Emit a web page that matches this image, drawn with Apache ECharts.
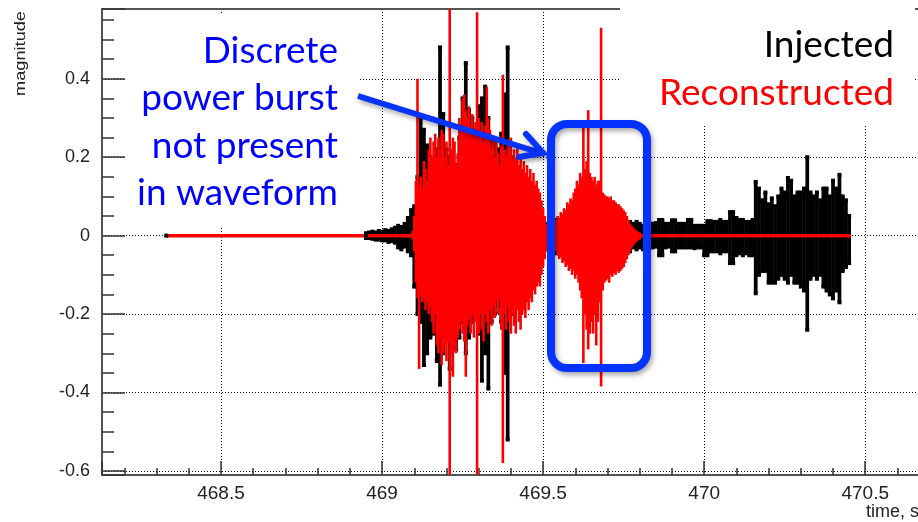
<!DOCTYPE html>
<html>
<head>
<meta charset="utf-8">
<script src="https://cdn.jsdelivr.net/npm/echarts@6/dist/echarts.min.js"></script>
<style>
  html, body { margin: 0; padding: 0; background: #fff; }
  #chart { width: 918px; height: 522px; }
</style>
</head>
<body>
<div id="chart"></div>
<script>
// Axis extents (time in s, magnitude)
const timeMin = 468.1306, timeMax = 470.67;
const magMin = -0.6105, magMax = 0.578;
const timeLabelStep = 0.5, magLabelStep = 0.2;

// Reconstructed waveform: flat between these times outside the bursts
const recoSpan = [468.33, 470.455];
// Reconstructed bursts: per-bin max / min, one bin every 5 ms from recoBinStart
const recoBinStart = 469.095, recoBinStep = 0.005;
const recoHi = [
  0.012, 0.05, 0.14, 0.40, 0.13, 0.15, 0.12, 0.19, 0.17, 0.14,
  0.22, 0.25, 0.20, 0.24, 0.26, 0.20, 0.25, 0.22, 0.27, 0.26,
  0.20, 0.24, 0.18, 0.58, 0.22, 0.25, 0.24, 0.18, 0.21, 0.30,
  0.28, 0.35, 0.36, 0.32, 0.30, 0.33, 0.28, 0.31, 0.25, 0.29,
  0.57, 0.30, 0.27, 0.29, 0.24, 0.28, 0.38, 0.30, 0.27, 0.22,
  0.25, 0.20, 0.24, 0.21, 0.18, 0.23, 0.41, 0.22, 0.20, 0.24,
  0.21, 0.25, 0.19, 0.22, 0.20, 0.23, 0.18, 0.20, 0.17, 0.19,
  0.16, 0.18, 0.15, 0.17, 0.14, 0.16, 0.13, 0.14, 0.12, 0.11,
  0.09, 0.07, 0.05, 0.03, 0.02, 0.02, 0.015, 0.02, 0.03, 0.04,
  0.05, 0.045, 0.06, 0.055, 0.07, 0.065, 0.085, 0.08, 0.095, 0.09,
  0.11, 0.12, 0.14, 0.13, 0.16, 0.15, 0.295, 0.17, 0.19, 0.32,
  0.16, 0.15, 0.14, 0.15, 0.13, 0.14, 0.14, 0.53, 0.11, 0.105,
  0.10, 0.10, 0.095, 0.10, 0.09, 0.09, 0.085, 0.08, 0.08, 0.075,
  0.07, 0.065, 0.06, 0.05, 0.04, 0.03, 0.025, 0.02, 0.015, 0.012,
  0.01, 0.008
];
const recoLo = [
  -0.01, -0.04, -0.12, -0.16, -0.34, -0.15, -0.17, -0.16, -0.19, -0.17,
  -0.20, -0.18, -0.22, -0.25, -0.20, -0.28, -0.30, -0.26, -0.33, -0.30,
  -0.28, -0.32, -0.27, -0.61, -0.30, -0.36, -0.28, -0.30, -0.26, -0.24,
  -0.22, -0.25, -0.27, -0.36, -0.23, -0.21, -0.25, -0.20, -0.26, -0.22,
  -0.61, -0.25, -0.20, -0.24, -0.27, -0.20, -0.22, -0.25, -0.19, -0.23,
  -0.18, -0.21, -0.17, -0.20, -0.16, -0.24, -0.58, -0.20, -0.24, -0.18,
  -0.22, -0.25, -0.20, -0.23, -0.25, -0.19, -0.22, -0.24, -0.20, -0.19,
  -0.21, -0.17, -0.19, -0.16, -0.17, -0.14, -0.15, -0.13, -0.12, -0.13,
  -0.10, -0.08, -0.06, -0.04, -0.03, -0.02, -0.02, -0.015, -0.03, -0.04,
  -0.05, -0.06, -0.055, -0.07, -0.065, -0.08, -0.075, -0.09, -0.085, -0.10,
  -0.09, -0.11, -0.10, -0.12, -0.14, -0.16, -0.325, -0.20, -0.24, -0.29,
  -0.25, -0.22, -0.25, -0.20, -0.28, -0.22, -0.17, -0.385, -0.14, -0.12,
  -0.115, -0.11, -0.12, -0.10, -0.105, -0.095, -0.10, -0.09, -0.095, -0.09,
  -0.085, -0.08, -0.07, -0.06, -0.05, -0.04, -0.03, -0.025, -0.02, -0.015,
  -0.012, -0.01
];

// Injected waveform: quiet lead-in, then per-bin max / min every 10 ms from injBinStart
const injLead = [468.33, 468.95];
const injBinStart = 468.95, injBinStep = 0.01;
const injHi = [
  0.006, 0.008, 0.01, 0.008, 0.012, 0.01, 0.014, 0.012, 0.016, 0.02,
  0.025, 0.022, 0.03, 0.045, 0.065, 0.075, 0.15, 0.30, 0.27, 0.23,
  0.20, 0.18, 0.22, 0.48, 0.31, 0.22, 0.20, 0.20, 0.18, 0.25,
  0.35, 0.44, 0.32, 0.30, 0.26, 0.33, 0.35, 0.38, 0.30, 0.25,
  0.24, 0.22, 0.26, 0.36, 0.48, 0.20, 0.18, 0.15, 0.13, 0.11,
  0.10, 0.08, 0.07, 0.05, 0.04, 0.035, 0.03, 0.03, 0.025, 0.04,
  0.035, 0.03, 0.04, 0.035, 0.03, 0.04, 0.035, 0.03, 0.04, 0.035,
  0.03, 0.04, 0.035, 0.03, 0.035, 0.04, 0.03, 0.035, 0.03, 0.04,
  0.035, 0.03, 0.035, 0.03, 0.035, 0.03, 0.025, 0.03, 0.032, 0.03,
  0.032, 0.04, 0.04, 0.03, 0.03, 0.039, 0.039, 0.03, 0.03, 0.03,
  0.04, 0.04, 0.025, 0.025, 0.025, 0.025, 0.037, 0.037, 0.035, 0.035,
  0.04, 0.035, 0.035, 0.06, 0.06, 0.045, 0.04, 0.04, 0.035, 0.035,
  0.04, 0.137, 0.12, 0.09, 0.11, 0.08, 0.095, 0.075, 0.10, 0.12,
  0.11, 0.147, 0.14, 0.10, 0.11, 0.11, 0.12, 0.20, 0.11, 0.10,
  0.11, 0.09, 0.12, 0.12, 0.10, 0.14, 0.12, 0.155, 0.10, 0.09,
  0.05
];
const injLo = [
  -0.006, -0.006, -0.008, -0.01, -0.01, -0.012, -0.012, -0.016, -0.014, -0.018,
  -0.03, -0.035, -0.028, -0.04, -0.05, -0.13, -0.20, -0.22, -0.33, -0.30,
  -0.26, -0.25, -0.32, -0.38, -0.30, -0.26, -0.34, -0.27, -0.29, -0.26,
  -0.22, -0.30, -0.26, -0.22, -0.20, -0.25, -0.37, -0.30, -0.39, -0.22,
  -0.20, -0.18, -0.22, -0.35, -0.52, -0.20, -0.17, -0.15, -0.13, -0.12,
  -0.10, -0.08, -0.07, -0.06, -0.05, -0.04, -0.035, -0.04, -0.03, -0.045,
  -0.04, -0.045, -0.035, -0.04, -0.035, -0.04, -0.045, -0.035, -0.04, -0.035,
  -0.04, -0.045, -0.035, -0.04, -0.03, -0.035, -0.04, -0.045, -0.035, -0.04,
  -0.035, -0.03, -0.04, -0.03, -0.035, -0.03, -0.035, -0.03, -0.028, -0.03,
  -0.028, -0.05, -0.05, -0.03, -0.028, -0.04, -0.04, -0.03, -0.03, -0.03,
  -0.03, -0.03, -0.032, -0.03, -0.03, -0.05, -0.05, -0.04, -0.04, -0.04,
  -0.045, -0.04, -0.04, -0.07, -0.07, -0.05, -0.045, -0.05, -0.045, -0.05,
  -0.05, -0.147, -0.10, -0.09, -0.09, -0.12, -0.12, -0.12, -0.11, -0.10,
  -0.11, -0.12, -0.10, -0.12, -0.12, -0.13, -0.14, -0.24, -0.11, -0.10,
  -0.11, -0.10, -0.13, -0.14, -0.15, -0.16, -0.14, -0.17, -0.09, -0.08,
  -0.07
];

// Envelope trace: each time bin is a filled column from its min to its max,
// optionally with square markers at both extremes.
function envelopeSeries(name, start, step, hi, lo, color, pad, markerSize) {
  const data = hi.map((h, i) => [start + i * step, h, lo[i]]);
  return {
    name: name, type: 'custom', data: data, silent: true, clip: true,
    encode: { x: 0, y: [1, 2] },
    renderItem: function (params, api) {
      const t = api.value(0);
      const top = api.coord([t, api.value(1)]);
      const bot = api.coord([t, api.value(2)]);
      const w = api.size([step, 0])[0] + pad;
      const children = [{
        type: 'rect',
        shape: { x: top[0] - w / 2, y: top[1], width: w, height: Math.max(bot[1] - top[1], 1) },
        style: { fill: color }
      }];
      if (markerSize) {
        const m = markerSize;
        children.push(
          { type: 'rect', shape: { x: top[0] - m / 2, y: top[1] - m / 2, width: m, height: m }, style: { fill: color } },
          { type: 'rect', shape: { x: bot[0] - m / 2, y: bot[1] - m / 2, width: m, height: m }, style: { fill: color } }
        );
      }
      return { type: 'group', children: children };
    }
  };
}

function stepLabel(step) {
  return function (v) {
    const k = v / step;
    if (Math.abs(k - Math.round(k)) > 1e-6) return '';
    return String(Math.round(v * 10) / 10);
  };
}

const axisColor = '#555';
const tickStyle = { color: '#333', width: 1.5 };
const gridDots = { color: '#000', width: 1, type: [1, 2] };
const tickFont = 'Liberation Sans';
const noteFont = '37px Lato';
const shapeBlue = '#0433ff';
const shade = { shadowBlur: 5, shadowOffsetX: 2, shadowOffsetY: 3, shadowColor: 'rgba(0,0,0,0.35)' };

const chart = echarts.init(document.getElementById('chart'));
chart.setOption({
  animation: false,
  backgroundColor: '#fff',
  grid: { left: 102, top: 9, width: 818, height: 466, containLabel: false, outerBoundsMode: 'none' },
  xAxis: [{
    type: 'value', min: timeMin, max: timeMax, splitNumber: 5,
    axisLine: { show: true, onZero: false, lineStyle: { color: axisColor, width: 2 } },
    axisTick: { show: true, inside: true, length: 14, lineStyle: tickStyle },
    minorTick: { show: true, splitNumber: 5, length: 7, lineStyle: tickStyle },
    axisLabel: { margin: 9, color: '#222', fontSize: 19, fontFamily: tickFont, formatter: stepLabel(timeLabelStep) },
    splitLine: { show: true, lineStyle: gridDots }
  }, {
    type: 'value', position: 'top', min: timeMin, max: timeMax,
    axisLine: { show: true, onZero: false, lineStyle: { color: axisColor, width: 2 } },
    axisTick: { show: false }, axisLabel: { show: false }, splitLine: { show: false }
  }],
  yAxis: {
    type: 'value', min: magMin, max: magMax, splitNumber: 5,
    axisLine: { show: true, onZero: false, lineStyle: { color: axisColor, width: 2 } },
    axisTick: { show: true, inside: true, length: 23, lineStyle: tickStyle },
    minorTick: { show: true, splitNumber: 4, length: 12, lineStyle: tickStyle },
    axisLabel: { margin: 12, color: '#222', fontSize: 18, fontFamily: tickFont, formatter: stepLabel(magLabelStep) },
    splitLine: { show: true, lineStyle: gridDots }
  },
  series: [
    {
      name: 'Injected', type: 'line', silent: true, clip: true,
      data: [[injLead[0], 0], [injLead[1], 0]],
      symbol: 'rect', symbolSize: 4, itemStyle: { color: '#000' },
      lineStyle: { color: '#000', width: 2 }
    },
    envelopeSeries('Injected', injBinStart, injBinStep, injHi, injLo, '#000', 0.5, 4),
    {
      name: 'Reconstructed', type: 'line', silent: true, clip: true,
      data: [[recoSpan[0], 0], [recoSpan[1], 0]],
      symbol: 'none', lineStyle: { color: '#ff0000', width: 3.5 }
    },
    envelopeSeries('Reconstructed', recoBinStart, recoBinStep, recoHi, recoLo, '#ff0000', 1.0, 0)
  ],
  graphic: [
    // text panels sit on plain white over the grid
    { type: 'rect', z: 1, silent: true, shape: { x: 125, y: 14, width: 233, height: 212 }, style: { fill: '#fff' } },
    { type: 'rect', z: 1, silent: true, shape: { x: 620, y: 0, width: 295, height: 125 }, style: { fill: '#fff' } },
    { type: 'text', z: 20, x: 338, y: 27, style: {
        text: 'Discrete\npower burst\nnot present\nin waveform',
        font: noteFont, fill: '#0000ff', align: 'right', verticalAlign: 'top', lineHeight: 47.5 } },
    { type: 'text', z: 20, x: 894, y: 45, style: { text: 'Injected', font: noteFont, fill: '#000', align: 'right', verticalAlign: 'middle' } },
    { type: 'text', z: 20, x: 894, y: 93, style: { text: 'Reconstructed', font: noteFont, fill: '#ff0000', align: 'right', verticalAlign: 'middle' } },
    // pointer from the note to the boxed burst
    { type: 'polyline', z: 20, silent: true, shape: { points: [[358, 96], [541, 153]] },
      style: Object.assign({ stroke: shapeBlue, lineWidth: 6, fill: null }, shade) },
    { type: 'polyline', z: 20, silent: true, shape: { points: [[526, 134], [543, 153], [519, 157]] },
      style: Object.assign({ stroke: shapeBlue, lineWidth: 6, fill: null, lineJoin: 'miter', lineCap: 'round' }, shade) },
    { type: 'rect', z: 20, silent: true, shape: { x: 551, y: 124, width: 96, height: 244, r: 16 },
      style: Object.assign({ stroke: shapeBlue, lineWidth: 8, fill: null }, shade) },
    // axis titles
    { type: 'text', z: 20, x: 21, y: 53.5, rotation: Math.PI / 2, scaleX: 1.3,
      style: { text: 'magnitude', font: '14px "Liberation Sans"', fill: '#222', align: 'center', verticalAlign: 'middle' } },
    { type: 'text', z: 20, x: 919, y: 512,
      style: { text: 'time, s', font: '18px "Liberation Sans"', fill: '#222', align: 'right', verticalAlign: 'middle' } }
  ]
});
</script>
</body>
</html>
